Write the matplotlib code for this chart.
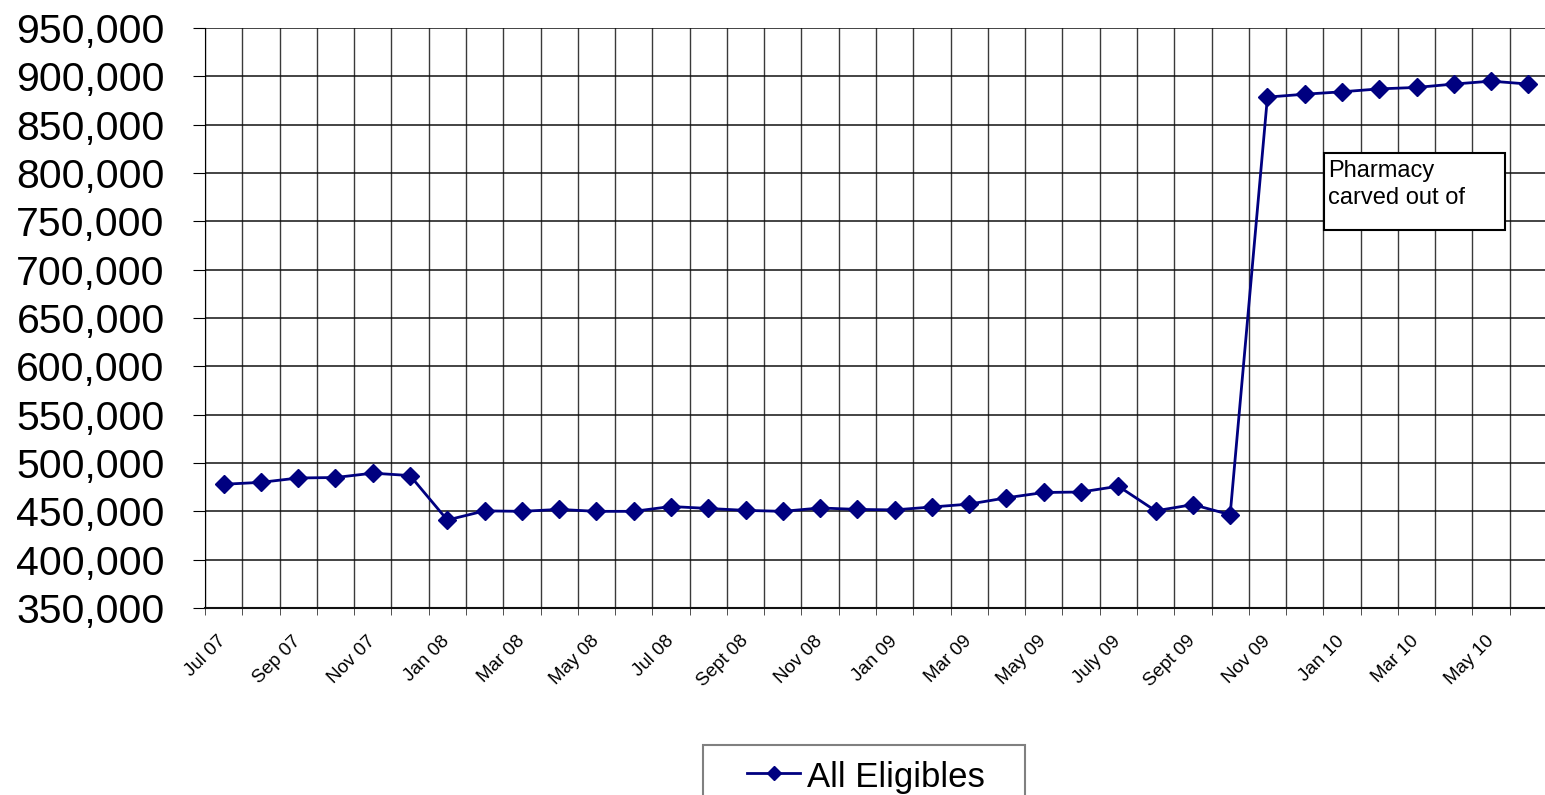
import matplotlib
matplotlib.use("Agg")
import matplotlib.pyplot as plt
from matplotlib.lines import Line2D
from matplotlib.patches import Rectangle
import numpy as np
from matplotlib.ticker import FuncFormatter

plt.rcParams['font.family'] = ['Liberation Sans', 'DejaVu Sans']

# monthly enrollment, Jul 07 .. Jun 10
months = ["Jul 07", "Aug 07", "Sep 07", "Oct 07", "Nov 07", "Dec 07",
          "Jan 08", "Feb 08", "Mar 08", "Apr 08", "May 08", "Jun 08",
          "Jul 08", "Aug 08", "Sept 08", "Oct 08", "Nov 08", "Dec 08",
          "Jan 09", "Feb 09", "Mar 09", "Apr 09", "May 09", "Jun 09",
          "July 09", "Aug 09", "Sept 09", "Oct 09", "Nov 09", "Dec 09",
          "Jan 10", "Feb 10", "Mar 10", "Apr 10", "May 10", "Jun 10"]
all_eligibles = [478000, 480000, 484500, 485000, 489500, 487000,
                 441000, 450500, 450000, 452000, 450000, 450000,
                 455000, 453000, 451000, 450000, 453500, 452000,
                 451500, 454500, 457500, 464000, 469500, 470000,
                 476000, 450500, 457000, 446500, 878500, 881500,
                 884000, 887000, 888500, 892000, 895000, 892000]
y_ticks = list(range(350000, 950001, 50000))
series_name = "All Eligibles"
note_text = "Pharmacy\ncarved out of"

navy = "#000080"
fig = plt.figure(figsize=(15.45, 7.95), dpi=100)
ax = fig.add_axes([0.1327, 0.2352, 0.8686, 0.7296])

x = np.arange(len(months))
ax.plot(x, all_eligibles, color=navy, lw=2, marker="D", ms=9, zorder=3)

ax.set_xlim(-0.5, len(months) - 0.5)
ax.set_ylim(350000, 950000)
ax.set_yticks(y_ticks)
ax.yaxis.set_major_formatter(FuncFormatter(lambda v, p: f"{int(v):,}"))
ax.tick_params(axis="y", labelsize=29.5, length=9, pad=20, color="black")

# labels every other month, gridlines on month boundaries
ax.set_xticks(x[::2])
ax.set_xticklabels(months[::2], rotation=45, ha="right", va="center",
                   rotation_mode="anchor", fontsize=13.5)
ax.tick_params(axis="x", which="major", length=0, pad=22)
ax.set_xticks(np.arange(-0.5, len(months)), minor=True)
ax.tick_params(axis="x", which="minor", length=5, color="#333333")

ax.grid(True, axis="y", which="major", color="#111111", lw=1.1)
ax.grid(True, axis="x", which="minor", color="#3a3a3a", lw=1)
ax.set_axisbelow(True)
for s in ["top", "right"]:
    ax.spines[s].set_visible(False)
ax.spines["left"].set_color("black")
ax.spines["bottom"].set_color("#111111")
ax.spines["bottom"].set_linewidth(1.5)

# note box
ax.add_patch(Rectangle((29.52, 741000), 4.86, 79700, fc="white",
                       ec="black", lw=1.5, zorder=4))
ax.text(29.63, 813500, note_text, fontsize=17, va="top", ha="left",
        linespacing=1.32, zorder=5)

# legend box at the bottom
fig.add_artist(Rectangle((703 / 1545, -0.02), 322 / 1545, 50 / 795 + 0.02,
                         transform=fig.transFigure, fc="white",
                         ec="#808080", lw=1.5))
fig.add_artist(Line2D([747 / 1545, 800 / 1545], [1 - 773 / 795] * 2,
                      transform=fig.transFigure, color=navy, lw=2))
fig.add_artist(Line2D([773.5 / 1545], [1 - 773 / 795], marker="D", ms=7,
                      transform=fig.transFigure, color=navy))
fig.text(807 / 1545, 1 - 787 / 795, series_name, fontsize=25,
         va="baseline", ha="left")

fig.savefig("out.png", dpi=100)
